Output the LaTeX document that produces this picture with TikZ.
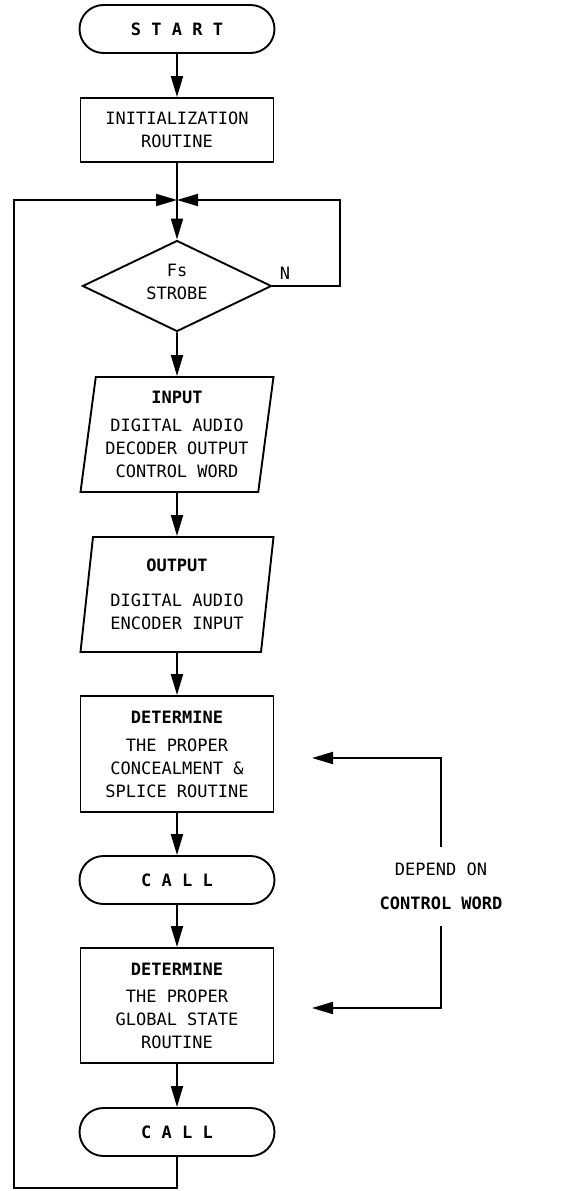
\documentclass[tikz,border=0pt]{standalone}
\usepackage{fontspec}
\setmainfont{DejaVu Sans Mono}
\usetikzlibrary{arrows.meta,shapes.geometric,shapes.misc}
\newcommand{\chartfont}{\fontsize{17}{23}\selectfont}
\tikzset{
  termbox/.style={draw,rounded rectangle,line width=1.9pt,minimum width=195pt,minimum height=48pt,
    inner sep=0pt,font=\chartfont\bfseries},
  procbox/.style={draw,line width=1.9pt,minimum width=193pt,align=center,inner sep=0pt},
  iobox/.style={draw,trapezium,trapezium left angle=80,trapezium right angle=100,trapezium stretches body,
    line width=1.9pt,minimum width=193pt,minimum height=115pt,align=center,inner sep=0pt},
  decbox/.style={draw,diamond,aspect=2.1,line width=1.9pt,minimum width=189pt,minimum height=91pt,
    align=center,inner sep=0pt},
  flow/.style={-{Triangle[length=21pt,width=12pt]},line width=1.9pt},
  loopline/.style={line width=1.9pt},
  sidenote/.style={align=center,inner xsep=0pt,inner ysep=16pt}
}

\begin{document}
\begin{tikzpicture}[x=1pt,y=-1pt,font=\chartfont]
  \useasboundingbox (0,0) rectangle (562,1191);
  % main column
  \node[termbox] (start) at (177,29) {S T A R T};
  \node[procbox,minimum height=64pt] (init) at (177,130) {INITIALIZATION\\ROUTINE};
  \coordinate (jn) at (177,200);
  \node[decbox] (strobe) at (177,286) {Fs\\STROBE\\[-14pt]\mbox{}};
  \node[iobox] (input) at (177,434.5) {\textbf{INPUT}\\[5pt]DIGITAL AUDIO\\DECODER OUTPUT\\CONTROL WORD};
  \node[iobox] (output) at (177,594.5) {\textbf{OUTPUT}\\[12pt]DIGITAL AUDIO\\ENCODER INPUT};
  \node[procbox,minimum height=116pt] (det1) at (177,754)
    {\textbf{DETERMINE}\\[5pt]THE PROPER\\CONCEALMENT \&\\SPLICE ROUTINE};
  \node[termbox] (call1) at (177,880) {C A L L};
  \node[procbox,minimum height=115pt] (det2) at (177,1005.5)
    {\textbf{DETERMINE}\\[4pt]THE PROPER\\GLOBAL STATE\\ROUTINE};
  \node[termbox] (call2) at (177,1132) {C A L L};
  \node (nlab) at (285,273) {N};

  % side note
  \node[sidenote] (dep) at (441,886.5) {DEPEND ON\\[11pt]\textbf{CONTROL WORD}};
  \coordinate (tip1) at (312,758);
  \coordinate (tip2) at (312,1008);

  % loop corners
  \coordinate (lbot) at (14,1188);
  \coordinate (ltop) at (14,200);
  \coordinate (rtop) at (340,200);

  \draw[flow] (start) -- (init);
  \draw[loopline] (init) -- (jn);
  \draw[flow] (jn) -- (strobe);
  \draw[flow] (strobe) -- (input);
  \draw[flow] (input) -- (output);
  \draw[flow] (output) -- (det1);
  \draw[flow] (det1) -- (call1);
  \draw[flow] (call1) -- (det2);
  \draw[flow] (det2) -- (call2);
  \draw[flow] (strobe.east) -| (rtop) -- (jn);
  \draw[flow] (call2.south) |- (lbot) -- (ltop) -- (jn);
  \draw[flow] (dep.north) |- (tip1);
  \draw[flow] (dep.south) |- (tip2);
\end{tikzpicture}
\end{document}
